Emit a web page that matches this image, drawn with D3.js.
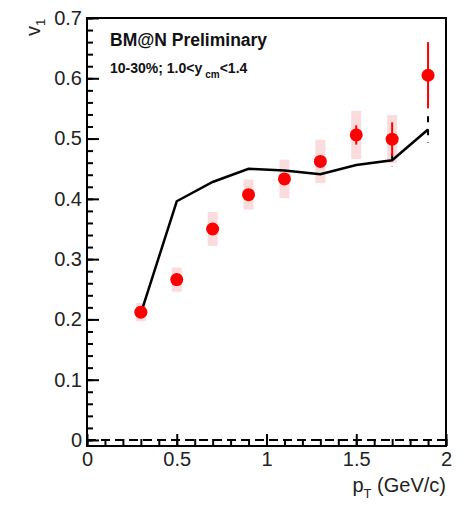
<!DOCTYPE html>
<html>
<head>
<meta charset="utf-8">
<script src="https://cdn.jsdelivr.net/npm/d3@7"></script>
<style>
  body { margin: 0; background: #fff; }
  text { font-family: "Liberation Sans", Arial, sans-serif; }
</style>
</head>
<body>
<div id="chart"></div>
<script>
"use strict";

// data points (BM@N preliminary v1 vs pT)
var ptBins = [0.3, 0.5, 0.7, 0.9, 1.1, 1.3, 1.5, 1.7, 1.9];
var v1Data = [0.212, 0.266, 0.350, 0.407, 0.433, 0.462, 0.506, 0.499, 0.605];
var statErr = [0.004, 0.004, 0.005, 0.005, 0.005, 0.006, 0.016, 0.028, 0.055];
var sysErr = [0.015, 0.020, 0.028, 0.025, 0.032, 0.036, 0.040, 0.040, 0];
// model curve
var v1Model = [0.210, 0.396, 0.428, 0.450, 0.447, 0.441, 0.456, 0.464, 0.515];
var modelErr = [0, 0, 0, 0, 0, 0, 0, 0.011, 0.022];

var xTicks = [0, 0.5, 1, 1.5, 2];
var yTicks = [0, 0.1, 0.2, 0.3, 0.4, 0.5, 0.6, 0.7];

var W = 462, H = 505;
var margin = {left: 87, right: 446, top: 18, bottom: 446};

var svg = d3.select("#chart").append("svg")
    .attr("width", W).attr("height", H);

var x = d3.scaleLinear().domain([0, 2]).range([margin.left, margin.right]);
var y = d3.scaleLinear().domain([-0.01, 0.7]).range([margin.bottom, margin.top]);

// dashed zero line
svg.append("line")
    .attr("x1", margin.left).attr("x2", margin.right)
    .attr("y1", y(0)).attr("y2", y(0))
    .attr("stroke", "#000").attr("stroke-width", 2)
    .attr("stroke-dasharray", "9,5");

// axes (ticks inside)
var xAxis = d3.axisBottom(x).tickValues(xTicks).tickSize(-12).tickPadding(6)
    .tickFormat(d3.format("~g"));
var xMinor = d3.axisBottom(x).tickValues(d3.range(0, 2.001, 0.1)).tickSize(-7).tickFormat("");
var yAxis = d3.axisLeft(y).tickValues(yTicks).tickSize(-12).tickPadding(5)
    .tickFormat(d3.format("~g"));
var yMinor = d3.axisLeft(y).tickValues(d3.range(0, 0.701, 0.02)).tickSize(-6).tickFormat("");

function styleAxis(g) {
  g.select(".domain").remove();
  g.selectAll("line").attr("stroke", "#000").attr("stroke-width", 2);
  g.selectAll("text").attr("font-size", 20).attr("fill", "#222")
    .style("font-family", "'Liberation Sans', Arial, sans-serif");
}

svg.append("g").attr("transform", "translate(0," + margin.bottom + ")").call(xMinor).call(styleAxis);
svg.append("g").attr("transform", "translate(0," + margin.bottom + ")").call(xAxis).call(styleAxis);
svg.append("g").attr("transform", "translate(" + margin.left + ",0)").call(yMinor).call(styleAxis);
svg.append("g").attr("transform", "translate(" + margin.left + ",0)").call(yAxis).call(styleAxis);

// frame
svg.append("rect")
    .attr("x", margin.left).attr("y", margin.top)
    .attr("width", margin.right - margin.left).attr("height", margin.bottom - margin.top)
    .attr("fill", "none").attr("stroke", "#000").attr("stroke-width", 2);

// systematic boxes
svg.append("g").selectAll("rect")
    .data(ptBins.map(function(p, i) { return {p: p, v: v1Data[i], e: sysErr[i]}; }).filter(d => d.e > 0))
    .join("rect")
    .attr("x", d => x(d.p) - 5)
    .attr("width", 10)
    .attr("y", d => y(d.v + d.e))
    .attr("height", d => y(d.v - d.e) - y(d.v + d.e))
    .attr("fill", "#fbdcdd");

// model curve
var line = d3.line().x((d, i) => x(ptBins[i])).y(d => y(d));
svg.append("path")
    .datum(v1Model)
    .attr("d", line)
    .attr("fill", "none").attr("stroke", "#000").attr("stroke-width", 2.5);

// model errors (dashed)
svg.append("g").selectAll("line")
    .data(ptBins.map(function(p, i) { return {p: p, v: v1Model[i], e: modelErr[i]}; }).filter(d => d.e > 0))
    .join("line")
    .attr("x1", d => x(d.p)).attr("x2", d => x(d.p))
    .attr("y1", d => y(d.v + d.e)).attr("y2", d => y(d.v - d.e))
    .attr("stroke", "#000").attr("stroke-width", 2)
    .attr("stroke-dasharray", "6,7");

// stat errors
svg.append("g").selectAll("line")
    .data(ptBins.map(function(p, i) { return {p: p, v: v1Data[i], e: statErr[i]}; }))
    .join("line")
    .attr("x1", d => x(d.p)).attr("x2", d => x(d.p))
    .attr("y1", d => y(d.v + d.e)).attr("y2", d => y(d.v - d.e))
    .attr("stroke", "#f00").attr("stroke-width", 2);

// markers
svg.append("g").selectAll("circle")
    .data(ptBins.map(function(p, i) { return {p: p, v: v1Data[i]}; }))
    .join("circle")
    .attr("cx", d => x(d.p)).attr("cy", d => y(d.v))
    .attr("r", 6.5).attr("fill", "#f00");

// labels
var yl = svg.append("text")
    .attr("transform", "translate(40,36) rotate(-90)")
    .attr("font-size", 20).attr("fill", "#222");
yl.append("tspan").text("v");
yl.append("tspan").attr("font-size", 13).attr("dy", 5).text("1");

var xl = svg.append("text")
    .attr("x", margin.right).attr("y", 492)
    .attr("text-anchor", "end")
    .attr("font-size", 20).attr("fill", "#222");
xl.append("tspan").text("p");
xl.append("tspan").attr("font-size", 13).attr("dy", 6).text("T");
xl.append("tspan").attr("dy", -6).text(" (GeV/c)");

svg.append("text")
    .attr("x", 110).attr("y", 46)
    .attr("font-size", 17.5).attr("font-weight", "bold").attr("fill", "#111")
    .text("BM@N Preliminary");

var sub = svg.append("text")
    .attr("x", 110).attr("y", 73)
    .attr("font-size", 14).attr("font-weight", "bold").attr("fill", "#111");
sub.append("tspan").text("10-30%; 1.0<y");
sub.append("tspan").attr("font-size", 10).attr("dy", 5).attr("dx", 3).text("cm");
sub.append("tspan").attr("dy", -5).text("<1.4");
</script>
</body>
</html>
